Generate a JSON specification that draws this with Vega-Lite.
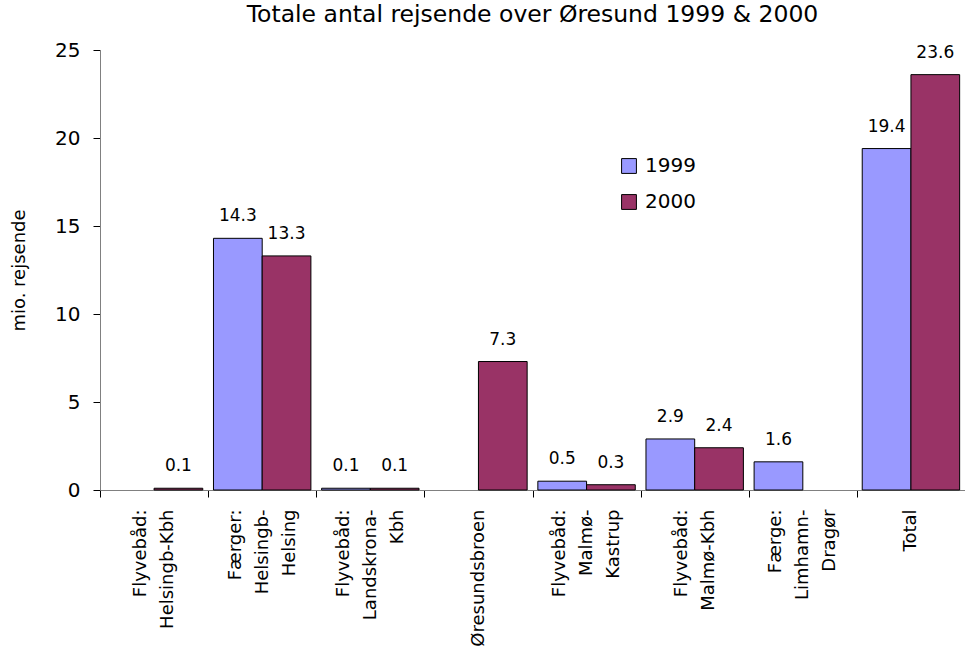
{
  "$schema": "https://vega.github.io/schema/vega-lite/v6.json",
  "width": 865,
  "height": 440,
  "autosize": {"type": "none"},
  "padding": {"left": 100, "top": 50, "right": 0, "bottom": 167},
  "background": "white",
  "config": {
    "view": {"stroke": null},
    "font": "DejaVu Sans",
    "axis": {"grid": false}
  },
  "title": {
    "text": "Totale antal rejsende over Øresund 1999 & 2000",
    "fontSize": 23.5,
    "fontWeight": "normal",
    "color": "#000000",
    "offset": 14,
    "anchor": "middle"
  },
  "data": {
    "values": [
      {"rute": "Flyvebåd:|Helsingb-Kbh", "aar": "2000", "v": 0.1},
      {"rute": "Færger:|Helsingb-|Helsing", "aar": "1999", "v": 14.3},
      {"rute": "Færger:|Helsingb-|Helsing", "aar": "2000", "v": 13.3},
      {"rute": "Flyvebåd:|Landskrona-|Kbh", "aar": "1999", "v": 0.1},
      {"rute": "Flyvebåd:|Landskrona-|Kbh", "aar": "2000", "v": 0.1},
      {"rute": "Øresundsbroen", "aar": "2000", "v": 7.3},
      {"rute": "Flyvebåd:|Malmø-|Kastrup", "aar": "1999", "v": 0.5},
      {"rute": "Flyvebåd:|Malmø-|Kastrup", "aar": "2000", "v": 0.3},
      {"rute": "Flyvebåd:|Malmø-Kbh", "aar": "1999", "v": 2.9},
      {"rute": "Flyvebåd:|Malmø-Kbh", "aar": "2000", "v": 2.4},
      {"rute": "Færge:|Limhamn-|Dragør", "aar": "1999", "v": 1.6},
      {"rute": "Total", "aar": "1999", "v": 19.4},
      {"rute": "Total", "aar": "2000", "v": 23.6}
    ]
  },
  "encoding": {
    "x": {
      "field": "rute",
      "type": "nominal",
      "sort": null,
      "scale": {
        "domain": ["Flyvebåd:|Helsingb-Kbh", "Færger:|Helsingb-|Helsing", "Flyvebåd:|Landskrona-|Kbh", "Øresundsbroen", "Flyvebåd:|Malmø-|Kastrup", "Flyvebåd:|Malmø-Kbh", "Færge:|Limhamn-|Dragør", "Total"],
        "paddingInner": 0,
        "paddingOuter": 0
      },
      "axis": {
        "title": null,
        "labelAngle": 270,
        "labelExpr": "split(datum.label, '|')",
        "labelFontSize": 18,
        "labelColor": "#000000",
        "labelLineHeight": 27,
        "labelPadding": 12,
        "labelLimit": 200,
        "tickBand": "extent",
        "tickSize": 7,
        "tickColor": "#000000",
        "domainColor": "#808080",
        "labelOverlap": false,
        "labelOffset": {
          "condition": [
            {"test": "length(split(datum.value, '|')) == 3", "value": -27},
            {"test": "length(split(datum.value, '|')) == 2", "value": -13.5}
          ],
          "value": 0
        }
      }
    },
    "xOffset": {"field": "aar", "type": "nominal", "scale": {"paddingOuter": 0.11, "paddingInner": 0}},
    "y": {
      "field": "v",
      "type": "quantitative",
      "scale": {"domain": [0, 25], "nice": false},
      "axis": {
        "title": "mio. rejsende",
        "titleFontSize": 18,
        "titleFontWeight": "normal",
        "titleColor": "#000000",
        "titlePadding": 26,
        "values": [0, 5, 10, 15, 20, 25],
        "labelFontSize": 20,
        "labelColor": "#000000",
        "labelPadding": 13,
        "tickSize": 7,
        "tickColor": "#000000",
        "domainColor": "#808080"
      }
    }
  },
  "layer": [
    {
      "mark": {"type": "bar", "stroke": "#000000", "strokeWidth": 1},
      "encoding": {
        "color": {
          "field": "aar",
          "type": "nominal",
          "scale": {"domain": ["1999", "2000"], "range": ["#9999FF", "#993366"]},
          "legend": {
            "title": null,
            "orient": "none",
            "legendX": 519,
            "legendY": 106,
            "symbolType": "square",
            "symbolSize": 220,
            "symbolStrokeColor": "#000000",
            "symbolStrokeWidth": 1,
            "labelFontSize": 20,
            "labelColor": "#000000",
            "rowPadding": 16,
            "labelOffset": 6
          }
        }
      }
    },
    {
      "mark": {"type": "text", "dy": -13, "fontSize": 17, "color": "#000000", "baseline": "bottom"},
      "encoding": {
        "text": {"field": "v", "type": "quantitative", "format": ".1f"}
      }
    }
  ]
}
